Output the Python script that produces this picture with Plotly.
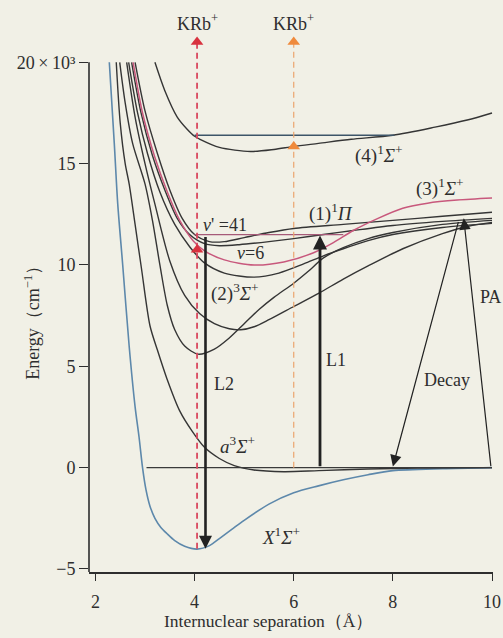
import plotly.graph_objects as go

# ---------------- data (r in Å, E in 10^3 cm^-1) ----------------
r_X = [2.28, 2.38, 2.45, 2.55, 2.68, 2.8, 2.88, 2.95, 3.02, 3.1, 3.2, 3.32, 3.44, 3.6, 3.8, 4.05,
       4.3, 4.5, 4.75, 5.0, 5.5, 6.0, 6.5, 7.0, 7.5, 8.0, 9.0, 10.0]
E_X = [20, 16, 13, 10, 6, 3, 1.5, 0, -1.1, -1.9, -2.5, -2.95, -3.25, -3.6, -3.88, -4.02,
       -3.85, -3.5, -3.05, -2.6, -1.8, -1.24, -0.9, -0.6, -0.35, -0.15, -0.05, 0]

r_a = [2.42, 2.5, 2.6, 2.68, 2.8, 2.93, 3.1, 3.25, 3.44, 3.7, 3.95, 4.2, 4.5, 4.8,
       5.2, 5.8, 6.5, 7.5, 8.5, 10.0]
E_a = [20, 17, 15, 14, 12, 9.8, 7.0, 5.8, 4.4, 2.8, 1.8, 1.0, 0.45, 0.1,
       -0.12, -0.2, -0.15, -0.07, -0.02, 0]

r_A = [2.49, 2.6, 2.75, 3.0, 3.15, 3.3, 3.45, 3.6, 3.8, 4.07, 4.4, 4.7, 5.0, 5.3,
       5.6, 6.0, 6.3, 6.6, 7.0, 7.5, 8.0, 9.0, 10.0]
E_A = [20, 18, 16, 14, 12.2, 10.0, 8.0, 6.8, 6.0, 5.6, 5.85, 6.4, 7.1, 7.8,
       8.4, 9.1, 9.7, 10.35, 10.85, 11.3, 11.6, 12.0, 12.2]

r_B = [2.63, 2.8, 3.0, 3.2, 3.5, 3.8, 4.1, 4.4, 4.7, 4.93, 5.2, 5.5, 6.0, 6.5,
       7.0, 7.5, 8.2, 9.0, 9.5, 10.0]
E_B = [20, 17.3, 15.0, 13.0, 10.2, 8.5, 7.6, 7.1, 6.85, 6.8, 6.95, 7.3, 7.95, 8.6,
       9.3, 9.95, 10.8, 11.55, 11.9, 12.1]

r_D = [2.67, 2.85, 3.05, 3.3, 3.6, 3.9, 4.2, 4.6, 5.2, 5.7, 6.2, 6.6, 7.0, 7.5,
       8.0, 9.0, 10.0]
E_D = [20, 17.5, 15.5, 13.6, 12.0, 10.9, 10.1, 9.6, 9.4, 9.6, 10.05, 10.45, 10.8, 11.2,
       11.5, 11.85, 12.05]

r_E = [2.73, 2.92, 3.15, 3.4, 3.65, 3.9, 4.2, 4.5, 4.9, 5.5, 6.0, 6.6, 7.2, 8.0, 9.0, 10.0]
E_E = [20, 17.5, 15.4, 13.7, 12.3, 11.5, 11.05, 10.95, 11.0, 11.15, 11.3, 11.5, 11.7, 11.95, 12.15, 12.3]

r_P1 = [2.8, 3.0, 3.25, 3.5, 3.75, 4.0, 4.3, 4.6, 5.0, 5.5, 6.0, 7.0, 8.0, 9.0, 10.0]
E_P1 = [20, 17.6, 15.5, 13.7, 12.3, 11.5, 11.15, 11.15, 11.35, 11.6, 11.8, 12.0, 12.2, 12.4, 12.6]

r_S3 = [2.76, 2.95, 3.2, 3.45, 3.7, 3.97, 4.2, 4.6, 5.2, 5.8, 6.4, 6.8, 7.2, 7.7,
        8.2, 8.7, 9.3, 10.0]
E_S3 = [20, 17.5, 15.3, 13.6, 12.2, 11.2, 10.7, 10.25, 10.0, 10.15, 10.6, 11.1, 11.7, 12.3,
        12.8, 13.05, 13.2, 13.3]

r_S4 = [3.2, 3.4, 3.65, 3.85, 4.0, 4.11, 4.5, 5.13, 5.6, 6.0, 6.5, 7.16, 8.0, 8.85, 9.5, 10.0]
E_S4 = [20, 18.6, 17.3, 16.7, 16.35, 16.2, 15.8, 15.6, 15.7, 15.85, 16.0, 16.2, 16.4, 16.8, 17.15, 17.5]

# horizontal levels: (r_start, r_end, E)
level_r0 = [3.03, 4.0, 4.0]
level_r1 = [10.0, 8.03, 7.0]
level_E = [0.0, 16.4, 11.5]

# ionisation probes (dashed) : r, E bottom, E triangle, E top
probe_r = [4.05, 6.0]
probe_E0 = [-4.0, 0.0]
probe_Etri = [10.75, 15.85]
probe_Etop = [21.0, 21.0]

# transition arrows: (r_tail, E_tail) -> (r_head, E_head)
arr_names = ["L2", "L1", "Decay", "PA"]
arr_r0 = [4.22, 6.53, 9.33, 9.98]
arr_E0 = [11.45, 0.0, 12.2, 0.0]
arr_r1 = [4.22, 6.53, 8.0, 9.43]
arr_E1 = [-4.0, 11.45, 0.05, 12.3]

yticks = [-5, 0, 5, 10, 15, 20]
ytick_text = ["\u22125", "0", "5", "10", "15", "20\u2009×\u200910³"]
xticks = [2, 4, 6, 8, 10]

# ---------------- styling ----------------
SERIF = "Liberation Serif, Times New Roman, serif"
INK = "#2e2e2e"
BG = "#f1f0e6"

fig = go.Figure()

curves = [
    (r_X, E_X, "#5d88ab", 1.6),
    (r_a, E_a, "#353535", 1.4),
    (r_A, E_A, "#353535", 1.4),
    (r_B, E_B, "#353535", 1.4),
    (r_D, E_D, "#353535", 1.4),
    (r_E, E_E, "#353535", 1.4),
    (r_P1, E_P1, "#353535", 1.4),
    (r_S3, E_S3, "#c8587c", 1.5),
    (r_S4, E_S4, "#353535", 1.4),
]
for r, E, c, w in curves:
    fig.add_trace(go.Scatter(x=r, y=E, mode="lines", line=dict(color=c, width=w, shape="spline", smoothing=0.8),
                             hoverinfo="skip", showlegend=False))

level_col = ["#3a3a3a", "#3d5568", "#a65a78"]
for i in range(len(level_E)):
    fig.add_trace(go.Scatter(x=[level_r0[i], level_r1[i]], y=[level_E[i], level_E[i]], mode="lines",
                             line=dict(color=level_col[i], width=1.3), hoverinfo="skip", showlegend=False))

probe_col = ["#d9485f", "#eba56e"]
tri_col = ["#d8323f", "#ef8a3c"]
probe_w = [1.8, 1.2]
for i in range(len(probe_r)):
    fig.add_trace(go.Scatter(x=[probe_r[i], probe_r[i]], y=[probe_E0[i], probe_Etop[i]], mode="lines",
                             line=dict(color=probe_col[i], width=probe_w[i], dash="6px,4px"),
                             hoverinfo="skip", showlegend=False))
    fig.add_trace(go.Scatter(x=[probe_r[i], probe_r[i]], y=[probe_Etri[i], probe_Etop[i]], mode="markers",
                             marker=dict(symbol="triangle-up", size=11, color=tri_col[i]),
                             hoverinfo="skip", showlegend=False))

annotations = []
arr_w = [2.6, 2.8, 1.2, 1.2]
arr_s = [1.0, 1.0, 1.9, 1.9]
for i in range(len(arr_names)):
    annotations.append(dict(x=arr_r1[i], y=arr_E1[i], ax=arr_r0[i], ay=arr_E0[i], xref="x", yref="y",
                            axref="x", ayref="y", text="", showarrow=True, arrowhead=2,
                            arrowsize=arr_s[i], arrowwidth=arr_w[i], arrowcolor="#222222", standoff=0))

# text labels
lab_text = ["(4)<sup>1</sup><i>Σ</i><sup>+</sup>", "(3)<sup>1</sup><i>Σ</i><sup>+</sup>",
            "(1)<sup>1</sup><i>Π</i>", "<i>v</i>' =41", "<i>v</i>=6",
            "(2)<sup>3</sup><i>Σ</i><sup>+</sup>", "L2", "L1", "Decay", "PA",
            "<i>a</i><sup>3</sup><i>Σ</i><sup>+</sup>", "<i>X</i><sup>1</sup><i>Σ</i><sup>+</sup>",
            "KRb<sup>+</sup>", "KRb<sup>+</sup>"]
lab_r = [7.72, 8.96, 6.76, 4.62, 5.12, 4.82, 4.6, 6.85, 9.1, 9.97, 4.86, 5.75, 4.05, 6.0]
lab_E = [15.45, 13.8, 12.6, 11.95, 10.6, 8.65, 4.15, 5.3, 4.3, 8.4, 1.1, -3.35, 21.95, 21.95]
lab_size = [19, 19, 19, 18, 18, 19, 18, 18, 18, 18, 19, 19, 18, 18]
for t, x, y, s in zip(lab_text, lab_r, lab_E, lab_size):
    annotations.append(dict(x=x, y=y, xref="x", yref="y", text=t, showarrow=False,
                            xanchor="center", yanchor="middle",
                            font=dict(family=SERIF, size=s, color=INK)))

annotations.append(dict(x=-0.139, y=0.452, xref="paper", yref="paper", text="Energy（cm<sup>−1</sup>）",
                        textangle=-90, showarrow=False, xanchor="center", yanchor="middle",
                        font=dict(family=SERIF, size=18, color=INK)))
annotations.append(dict(x=0.445, y=-0.088, xref="paper", yref="paper", text="Internuclear separation（Å）",
                        showarrow=False, xanchor="center", yanchor="middle", borderpad=0,
                        font=dict(family=SERIF, size=17.5, color=INK)))

fig.update_layout(
    width=503, height=638,
    margin=dict(l=89, r=10, t=10, b=66, autoexpand=False),
    paper_bgcolor=BG, plot_bgcolor=BG,
    showlegend=False,
    annotations=annotations,
    shapes=[dict(type="line", xref="paper", yref="y", x0=0, x1=0, y0=-5.15, y1=20,
                 line=dict(color=INK, width=1.6))],
    xaxis=dict(range=[1.87, 10.02], showgrid=False, zeroline=False, showline=True, linecolor=INK,
               linewidth=1.6, ticks="outside", ticklen=7, tickwidth=1.4, tickcolor=INK,
               tickvals=xticks, ticklabelstandoff=6, automargin=False,
               tickfont=dict(family=SERIF, size=18, color=INK)),
    yaxis=dict(range=[-5.15, 22.58], showgrid=False, zeroline=False, showline=False,
               ticks="outside", ticklen=9, tickwidth=1.4, tickcolor=INK, automargin=False,
               tickvals=yticks, ticktext=ytick_text,
               tickfont=dict(family=SERIF, size=18, color=INK)),
)

fig.write_html("out.html", config={"displayModeBar": False},
               post_script="document.body.style.margin='0px';document.body.style.padding='0px';"
                           "document.body.style.overflow='hidden';document.body.style.background='" + BG + "';")
